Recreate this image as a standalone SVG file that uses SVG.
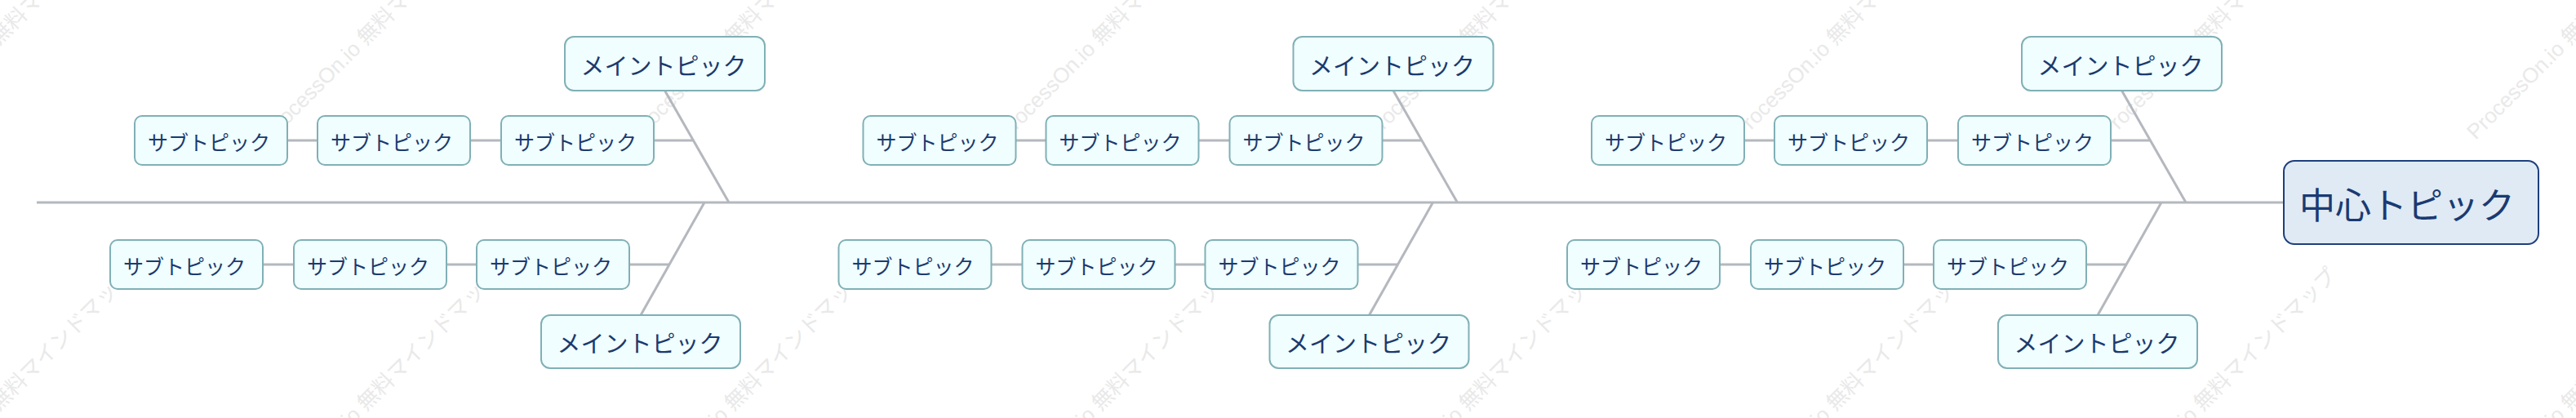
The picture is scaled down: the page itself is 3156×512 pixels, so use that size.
<svg xmlns="http://www.w3.org/2000/svg" width="3156" height="512" viewBox="0 0 3156 512">
<style>
.wm{font-family:"Liberation Sans","Noto Sans CJK JP",sans-serif;font-size:26px;fill:#e9e9e9}
.ln{stroke:#b4b8be;stroke-width:3;fill:none}
.box{fill:#f0feff;stroke:#80b0b6;stroke-width:2}
.cbox{fill:#dfeaf4;stroke:#1f3f7d;stroke-width:2}
.t{font-family:"Noto Sans CJK JP",sans-serif;fill:#1b3a6e;text-anchor:middle;dominant-baseline:central}
.sub{font-size:25px}
.main{font-size:29px}
.cen{font-size:44px;fill:#1a3a72}
</style>
<defs>
<g id="wmt"><text class="wm" x="0" y="0">ProcessOn.io 無料マインドマップ</text></g>
</defs>
<rect width="3156" height="512" fill="#ffffff"/>
<g id="watermark">
<use href="#wmt" transform="translate(-117,172) rotate(-45)"/>
<use href="#wmt" transform="translate(333,172) rotate(-45)"/>
<use href="#wmt" transform="translate(783,172) rotate(-45)"/>
<use href="#wmt" transform="translate(1233,172) rotate(-45)"/>
<use href="#wmt" transform="translate(1683,172) rotate(-45)"/>
<use href="#wmt" transform="translate(2133,172) rotate(-45)"/>
<use href="#wmt" transform="translate(2583,172) rotate(-45)"/>
<use href="#wmt" transform="translate(3033,172) rotate(-45)"/>
<use href="#wmt" transform="translate(-117,620) rotate(-45)"/>
<use href="#wmt" transform="translate(333,620) rotate(-45)"/>
<use href="#wmt" transform="translate(783,620) rotate(-45)"/>
<use href="#wmt" transform="translate(1233,620) rotate(-45)"/>
<use href="#wmt" transform="translate(1683,620) rotate(-45)"/>
<use href="#wmt" transform="translate(2133,620) rotate(-45)"/>
<use href="#wmt" transform="translate(2583,620) rotate(-45)"/>
<use href="#wmt" transform="translate(3033,620) rotate(-45)"/>
</g>
<g id="connectors">
<line class="ln" x1="45" y1="248" x2="2798" y2="248"/>
<!-- group 1 -->
<line class="ln" x1="814.5" y1="111" x2="893" y2="248"/>
<line class="ln" x1="352" y1="172" x2="389" y2="172"/>
<line class="ln" x1="576" y1="172" x2="614" y2="172"/>
<line class="ln" x1="801" y1="172" x2="849.5" y2="172"/>
<line class="ln" x1="785" y1="386" x2="863" y2="248"/>
<line class="ln" x1="322" y1="324" x2="360" y2="324"/>
<line class="ln" x1="547" y1="324" x2="584" y2="324"/>
<line class="ln" x1="771" y1="324" x2="820" y2="324"/>
<!-- group 2 -->
<line class="ln" x1="1707" y1="111" x2="1785.5" y2="248"/>
<line class="ln" x1="1244.5" y1="172" x2="1281.5" y2="172"/>
<line class="ln" x1="1468.5" y1="172" x2="1506.5" y2="172"/>
<line class="ln" x1="1693.5" y1="172" x2="1742" y2="172"/>
<line class="ln" x1="1677.5" y1="386" x2="1755.5" y2="248"/>
<line class="ln" x1="1214.5" y1="324" x2="1252.5" y2="324"/>
<line class="ln" x1="1439.5" y1="324" x2="1476.5" y2="324"/>
<line class="ln" x1="1663.5" y1="324" x2="1712.5" y2="324"/>
<!-- group 3 -->
<line class="ln" x1="2599.5" y1="111" x2="2678" y2="248"/>
<line class="ln" x1="2137" y1="172" x2="2174" y2="172"/>
<line class="ln" x1="2361" y1="172" x2="2399" y2="172"/>
<line class="ln" x1="2586" y1="172" x2="2634.5" y2="172"/>
<line class="ln" x1="2570" y1="386" x2="2648" y2="248"/>
<line class="ln" x1="2107" y1="324" x2="2145" y2="324"/>
<line class="ln" x1="2332" y1="324" x2="2369" y2="324"/>
<line class="ln" x1="2556" y1="324" x2="2605" y2="324"/>
</g>
<g id="central">
<rect class="cbox" x="2798" y="197" width="312" height="102" rx="13"/>
<text class="t cen" x="2949" y="249">中心トピック</text>
</g>
<!-- group 1 nodes -->
<g id="main1"><rect class="box" x="692" y="45" width="245" height="66" rx="11"/><text class="t main" x="813" y="79">メイントピック</text></g>
<g id="sub1a"><rect class="box" x="165" y="142" width="187" height="60" rx="9"/><text class="t sub" x="256" y="173">サブトピック</text></g>
<g id="sub1b"><rect class="box" x="389" y="142" width="187" height="60" rx="9"/><text class="t sub" x="480" y="173">サブトピック</text></g>
<g id="sub1c"><rect class="box" x="614" y="142" width="187" height="60" rx="9"/><text class="t sub" x="705" y="173">サブトピック</text></g>
<g id="main2"><rect class="box" x="663" y="386" width="244" height="65" rx="11"/><text class="t main" x="784" y="419">メイントピック</text></g>
<g id="sub2a"><rect class="box" x="135" y="294" width="187" height="60" rx="9"/><text class="t sub" x="226" y="325">サブトピック</text></g>
<g id="sub2b"><rect class="box" x="360" y="294" width="187" height="60" rx="9"/><text class="t sub" x="451" y="325">サブトピック</text></g>
<g id="sub2c"><rect class="box" x="584" y="294" width="187" height="60" rx="9"/><text class="t sub" x="675" y="325">サブトピック</text></g>
<!-- group 2 nodes -->
<g id="main3"><rect class="box" x="1584.5" y="45" width="245" height="66" rx="11"/><text class="t main" x="1705.5" y="79">メイントピック</text></g>
<g id="sub3a"><rect class="box" x="1057.5" y="142" width="187" height="60" rx="9"/><text class="t sub" x="1148.5" y="173">サブトピック</text></g>
<g id="sub3b"><rect class="box" x="1281.5" y="142" width="187" height="60" rx="9"/><text class="t sub" x="1372.5" y="173">サブトピック</text></g>
<g id="sub3c"><rect class="box" x="1506.5" y="142" width="187" height="60" rx="9"/><text class="t sub" x="1597.5" y="173">サブトピック</text></g>
<g id="main4"><rect class="box" x="1555.5" y="386" width="244" height="65" rx="11"/><text class="t main" x="1676.5" y="419">メイントピック</text></g>
<g id="sub4a"><rect class="box" x="1027.5" y="294" width="187" height="60" rx="9"/><text class="t sub" x="1118.5" y="325">サブトピック</text></g>
<g id="sub4b"><rect class="box" x="1252.5" y="294" width="187" height="60" rx="9"/><text class="t sub" x="1343.5" y="325">サブトピック</text></g>
<g id="sub4c"><rect class="box" x="1476.5" y="294" width="187" height="60" rx="9"/><text class="t sub" x="1567.5" y="325">サブトピック</text></g>
<!-- group 3 nodes -->
<g id="main5"><rect class="box" x="2477" y="45" width="245" height="66" rx="11"/><text class="t main" x="2598" y="79">メイントピック</text></g>
<g id="sub5a"><rect class="box" x="1950" y="142" width="187" height="60" rx="9"/><text class="t sub" x="2041" y="173">サブトピック</text></g>
<g id="sub5b"><rect class="box" x="2174" y="142" width="187" height="60" rx="9"/><text class="t sub" x="2265" y="173">サブトピック</text></g>
<g id="sub5c"><rect class="box" x="2399" y="142" width="187" height="60" rx="9"/><text class="t sub" x="2490" y="173">サブトピック</text></g>
<g id="main6"><rect class="box" x="2448" y="386" width="244" height="65" rx="11"/><text class="t main" x="2569" y="419">メイントピック</text></g>
<g id="sub6a"><rect class="box" x="1920" y="294" width="187" height="60" rx="9"/><text class="t sub" x="2011" y="325">サブトピック</text></g>
<g id="sub6b"><rect class="box" x="2145" y="294" width="187" height="60" rx="9"/><text class="t sub" x="2236" y="325">サブトピック</text></g>
<g id="sub6c"><rect class="box" x="2369" y="294" width="187" height="60" rx="9"/><text class="t sub" x="2460" y="325">サブトピック</text></g>
</svg>
